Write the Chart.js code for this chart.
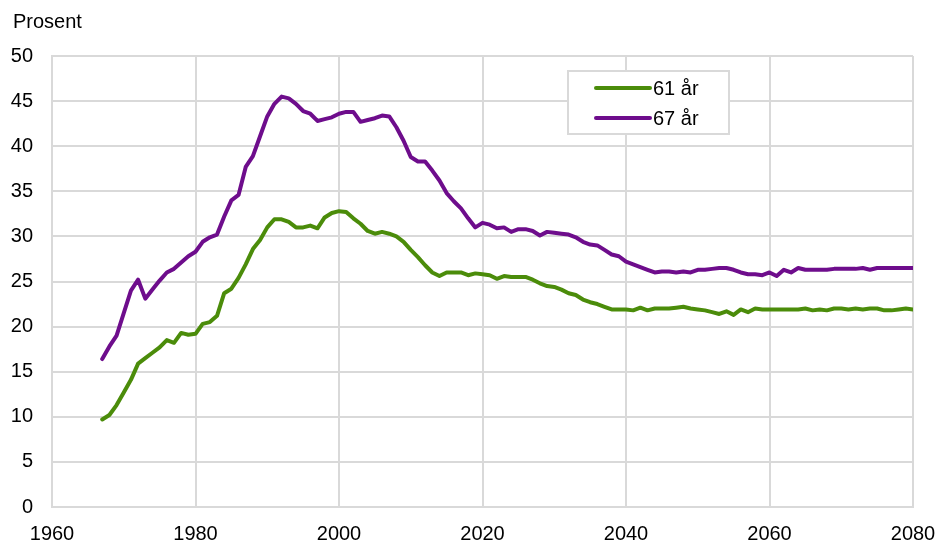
<!DOCTYPE html>
<html>
<head>
<meta charset="utf-8">
<title>Prosent 61 år og 67 år</title>
<script src="https://cdn.jsdelivr.net/npm/chart.js@4.4.1/dist/chart.umd.min.js"></script>
<style>
    html, body {
        margin: 0;
        padding: 0;
        background: #ffffff;
    }

    #wrap {
        width: 938px;
        height: 543px;
    }
</style>
</head>
<body>
<div id="wrap">
    <canvas id="prosentChart" width="938" height="543"></canvas>
</div>

<script>
// Data, one value per year from 1967 to 2080
const firstYear = 1967;

const seriesLabels = ["61 år", "67 år"];

const values61 = [
    9.7, 10.2, 11.3,                                          // 1967-1969
    12.7, 14.1, 15.9, 16.5, 17.1, 17.7, 18.5, 18.2, 19.3, 19.1, // 1970-1979
    19.2, 20.3, 20.5, 21.2, 23.7, 24.2, 25.4, 26.9, 28.6, 29.6, // 1980-1989
    31.0, 31.9, 31.9, 31.6, 31.0, 31.0, 31.2, 30.9, 32.1, 32.6, // 1990-1999
    32.8, 32.7, 32.0, 31.4, 30.6, 30.3, 30.5, 30.3, 30.0, 29.4, // 2000-2009
    28.5, 27.7, 26.8, 26.0, 25.6, 26.0, 26.0, 26.0, 25.7, 25.9, // 2010-2019
    25.8, 25.7, 25.3, 25.6, 25.5, 25.5, 25.5, 25.2, 24.8, 24.5, // 2020-2029
    24.4, 24.1, 23.7, 23.5, 23.0, 22.7, 22.5, 22.2, 21.9, 21.9, // 2030-2039
    21.9, 21.8, 22.1, 21.8, 22.0, 22.0, 22.0, 22.1, 22.2, 22.0, // 2040-2049
    21.9, 21.8, 21.6, 21.4, 21.7, 21.3, 21.9, 21.6, 22.0, 21.9, // 2050-2059
    21.9, 21.9, 21.9, 21.9, 21.9, 22.0, 21.8, 21.9, 21.8, 22.0, // 2060-2069
    22.0, 21.9, 22.0, 21.9, 22.0, 22.0, 21.8, 21.8, 21.9, 22.0, // 2070-2079
    21.9,                                                     // 2080
];

const values67 = [
    16.4, 17.8, 19.0,                                         // 1967-1969
    21.5, 24.0, 25.2, 23.1, 24.1, 25.1, 26.0, 26.4, 27.1, 27.8, // 1970-1979
    28.3, 29.4, 29.9, 30.2, 32.2, 34.0, 34.6, 37.7, 38.9, 41.1, // 1980-1989
    43.3, 44.7, 45.5, 45.3, 44.7, 43.9, 43.6, 42.8, 43.0, 43.2, // 1990-1999
    43.6, 43.8, 43.8, 42.7, 42.9, 43.1, 43.4, 43.3, 42.1, 40.6, // 2000-2009
    38.8, 38.3, 38.3, 37.3, 36.2, 34.8, 33.9, 33.1, 32.0, 31.0, // 2010-2019
    31.5, 31.3, 30.9, 31.0, 30.5, 30.8, 30.8, 30.6, 30.1, 30.5, // 2020-2029
    30.4, 30.3, 30.2, 29.9, 29.4, 29.1, 29.0, 28.5, 28.0, 27.8, // 2030-2039
    27.2, 26.9, 26.6, 26.3, 26.0, 26.1, 26.1, 26.0, 26.1, 26.0, // 2040-2049
    26.3, 26.3, 26.4, 26.5, 26.5, 26.3, 26.0, 25.8, 25.8, 25.7, // 2050-2059
    26.0, 25.6, 26.3, 26.0, 26.5, 26.3, 26.3, 26.3, 26.3, 26.4, // 2060-2069
    26.4, 26.4, 26.4, 26.5, 26.3, 26.5, 26.5, 26.5, 26.5, 26.5, // 2070-2079
    26.5,                                                     // 2080
];

const years = values61.map((v, i) => firstYear + i);

const xTicks = [1960, 1980, 2000, 2020, 2040, 2060, 2080];
const yTicks = [0, 5, 10, 15, 20, 25, 30, 35, 40, 45, 50];

const yTitle = "Prosent";

const FONT = "'Liberation Sans', Arial, sans-serif";
const GRID = "#d9d9d9";
const COLORS = ["#4b8c0a", "#6e0d8c"];

function toPoints(values) {
    return values.map((v, i) => ({ x: years[i], y: v }));
}

// Title above the y axis and the boxed legend inside the plot
const overlayPlugin = {
    id: "overlay",

    afterDraw(chart) {
        const ctx = chart.ctx;

        ctx.save();
        ctx.font = "20px " + FONT;
        ctx.fillStyle = "#000000";
        ctx.textBaseline = "middle";
        ctx.textAlign = "left";
        ctx.fillText(yTitle, 13, 22);

        // legend box
        ctx.fillStyle = "#ffffff";
        ctx.fillRect(568, 71, 161, 63);
        ctx.strokeStyle = GRID;
        ctx.lineWidth = 2;
        ctx.strokeRect(568, 71, 161, 63);

        chart.data.datasets.forEach((ds, i) => {
            const y = 88 + i * 30;

            ctx.strokeStyle = ds.borderColor;
            ctx.lineWidth = 4;
            ctx.lineCap = "round";
            ctx.beginPath();
            ctx.moveTo(596, y);
            ctx.lineTo(650, y);
            ctx.stroke();

            ctx.fillStyle = "#000000";
            ctx.fillText(ds.label, 653, y + 1);
        });

        ctx.restore();
    },
};

function createChart(elementId) {
    const canvas = document.getElementById(elementId);

    if (!canvas) {
        return;
    }

    new Chart(canvas.getContext("2d"), {
        type: "line",

        data: {
            datasets: [
                {
                    label: seriesLabels[0],
                    data: toPoints(values61),
                    borderColor: COLORS[0],
                },
                {
                    label: seriesLabels[1],
                    data: toPoints(values67),
                    borderColor: COLORS[1],
                },
            ],
        },

        options: {
            responsive: false,
            animation: false,

            layout: {
                padding: { top: 56, right: 25, bottom: 0, left: 0 },
            },

            elements: {
                point: { radius: 0 },
                line: { borderWidth: 4, tension: 0, borderJoinStyle: "round", borderCapStyle: "round" },
            },

            scales: {
                x: {
                    type: "linear",
                    min: 1960,
                    max: 2080,
                    afterBuildTicks: (scale) => {
                        scale.ticks = xTicks.map((v) => ({ value: v }));
                    },
                    afterFit: (scale) => {
                        scale.height = 36;
                        // labels may hang into the outer padding
                        scale.paddingLeft = 0;
                        scale.paddingRight = 0;
                    },
                    ticks: {
                        color: "#000000",
                        font: { family: FONT, size: 20 },
                        padding: 15,
                        maxRotation: 0,
                        callback: (v) => String(v),
                    },
                    grid: { color: GRID, lineWidth: 2, drawTicks: false },
                    border: { color: GRID, width: 2 },
                },

                y: {
                    min: 0,
                    max: 50,
                    afterBuildTicks: (scale) => {
                        scale.ticks = yTicks.map((v) => ({ value: v }));
                    },
                    afterFit: (scale) => {
                        scale.width = 52;
                        scale.paddingTop = 0;
                        scale.paddingBottom = 0;
                    },
                    ticks: {
                        color: "#000000",
                        font: { family: FONT, size: 20 },
                        padding: 19,
                    },
                    grid: { color: GRID, lineWidth: 2, drawTicks: false },
                    border: { color: GRID, width: 2 },
                },
            },

            plugins: {
                legend: { display: false },
                tooltip: { enabled: false },
            },
        },

        plugins: [overlayPlugin],
    });
}

createChart("prosentChart");
</script>
</body>
</html>
